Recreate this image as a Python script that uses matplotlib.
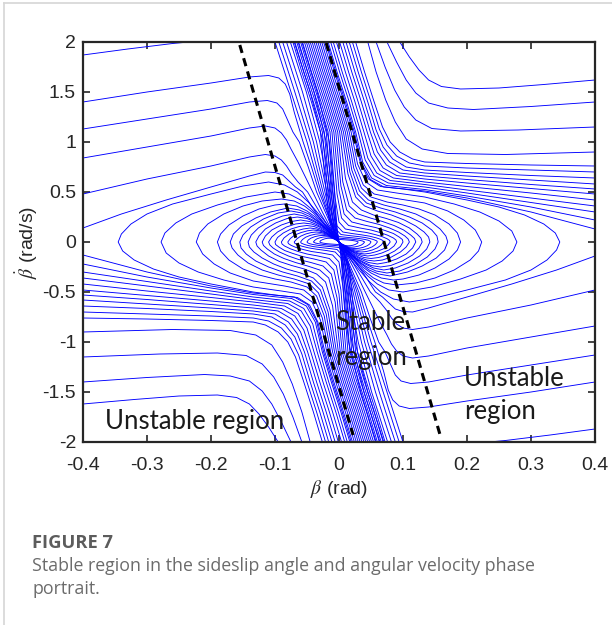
import matplotlib
matplotlib.use("Agg")
import matplotlib.pyplot as plt
from matplotlib.lines import Line2D

plt.rcParams["axes.unicode_minus"] = False
plt.rcParams["mathtext.fontset"] = "stix"

# Phase portrait: (beta [rad], beta_dot [rad/s]) knots.
# The portrait is point-symmetric about the origin, so each listed trajectory
# is drawn once as read and once reflected through the origin.

# entering from the left edge with beta_dot > 0
left_entry = [
    [(-0.40, 1.87), (-0.33, 1.93), (-0.26, 1.985), (-0.235, 2.0)],
    [(-0.40, 1.40), (-0.30, 1.50), (-0.20, 1.59), (-0.14, 1.65), (-0.11, 1.665), (-0.094, 1.64),
     (-0.084, 1.58), (-0.077, 1.48), (-0.07, 1.3), (-0.056, 1.0), (-0.043, 0.75), (-0.031, 0.5),
     (-0.016, 0.25), (-0.006, 0.08), (0.0, 0.0)],
    [(-0.40, 1.13), (-0.30, 1.23), (-0.20, 1.33), (-0.14, 1.40), (-0.112, 1.415), (-0.097, 1.39),
     (-0.088, 1.33), (-0.081, 1.23), (-0.072, 1.1), (-0.062, 1.0), (-0.048, 0.75), (-0.035, 0.5),
     (-0.018, 0.25), (-0.007, 0.08), (0.0, 0.0)],
    [(-0.40, 0.84), (-0.30, 0.95), (-0.20, 1.06), (-0.14, 1.14), (-0.115, 1.16), (-0.10, 1.14),
     (-0.09, 1.09), (-0.082, 1.02), (-0.075, 0.93), (-0.064, 0.8), (-0.041, 0.5), (-0.026, 0.3),
     (-0.013, 0.14), (-0.005, 0.04), (0.0, 0.0)],
    [(-0.40, 0.48), (-0.30, 0.63), (-0.20, 0.76), (-0.14, 0.85), (-0.115, 0.875), (-0.10, 0.86),
     (-0.09, 0.82), (-0.082, 0.76), (-0.074, 0.68), (-0.064, 0.6), (-0.049, 0.5), (-0.036, 0.36),
     (-0.021, 0.2), (-0.008, 0.07), (0.0, 0.0)],
    [(-0.40, 0.14), (-0.34, 0.28), (-0.27, 0.42), (-0.20, 0.55), (-0.14, 0.66), (-0.115, 0.70),
     (-0.10, 0.695), (-0.088, 0.67), (-0.078, 0.61), (-0.068, 0.55), (-0.057, 0.5), (-0.043, 0.36),
     (-0.026, 0.2), (-0.01, 0.07), (0.0, 0.0)],
]

# entering from the top edge left of the dense band, straight into the origin
top_direct = [
    [(-0.100, 2.0), (-0.075, 1.5), (-0.050, 1.0), (-0.028, 0.5), (-0.013, 0.2), (-0.006, 0.08), (0.0, 0.0)],
    [(-0.094, 2.0), (-0.069, 1.5), (-0.045, 1.0), (-0.025, 0.5), (-0.012, 0.2), (-0.005, 0.08), (0.0, 0.0)],
    [(-0.088, 2.0), (-0.063, 1.5), (-0.040, 1.0), (-0.022, 0.5), (-0.011, 0.2), (-0.005, 0.08), (0.0, 0.0)],
    [(-0.082, 2.0), (-0.057, 1.5), (-0.035, 1.0), (-0.019, 0.5), (-0.009, 0.2), (-0.004, 0.08), (0.0, 0.0)],
    [(-0.076, 2.0), (-0.051, 1.5), (-0.030, 1.0), (-0.016, 0.5), (-0.008, 0.2), (-0.004, 0.08), (0.0, 0.0)],
    [(-0.070, 2.0), (-0.045, 1.5), (-0.025, 1.0), (-0.013, 0.5), (-0.006, 0.2), (-0.003, 0.08), (0.0, 0.0)],
    [(-0.064, 2.0), (-0.039, 1.5), (-0.020, 1.0), (-0.010, 0.5), (-0.005, 0.2), (-0.002, 0.08), (0.0, 0.0)],
    [(-0.058, 2.0), (-0.034, 1.5), (-0.015, 1.0), (-0.007, 0.5), (-0.004, 0.2), (-0.002, 0.08), (0.0, 0.0)],
]

# entering from the top edge right of the band, out through the right edge
top_right = [
    [(0.095, 2.0), (0.11, 1.85), (0.125, 1.72), (0.14, 1.62), (0.16, 1.555), (0.19, 1.53),
     (0.25, 1.54), (0.32, 1.575), (0.40, 1.62)],
    [(0.075, 2.0), (0.09, 1.8), (0.105, 1.62), (0.12, 1.49), (0.14, 1.39), (0.17, 1.34),
     (0.21, 1.325), (0.30, 1.355), (0.40, 1.40)],
    [(0.058, 2.0), (0.072, 1.75), (0.087, 1.52), (0.102, 1.35), (0.12, 1.22), (0.145, 1.135),
     (0.19, 1.11), (0.28, 1.12), (0.40, 1.15)],
    [(0.045, 2.0), (0.058, 1.7), (0.073, 1.42), (0.088, 1.2), (0.105, 1.03), (0.13, 0.93),
     (0.17, 0.885), (0.26, 0.875), (0.40, 0.90)],
]

# dense band from the top edge, spreading out through the right edge
band_edge = [
    [(0.026, 2.0), (0.040, 1.7), (0.055, 1.4), (0.068, 1.15), (0.08, 1.0), (0.095, 0.9),
     (0.115, 0.83), (0.134, 0.80), (0.2, 0.785), (0.3, 0.77), (0.4, 0.76)],
    [(0.021, 2.0), (0.035, 1.7), (0.050, 1.4), (0.063, 1.13), (0.075, 0.97), (0.09, 0.86),
     (0.11, 0.79), (0.134, 0.76), (0.2, 0.74), (0.3, 0.72), (0.4, 0.70)],
    [(0.016, 2.0), (0.030, 1.7), (0.045, 1.4), (0.058, 1.12), (0.069, 0.95), (0.084, 0.83),
     (0.105, 0.75), (0.134, 0.72), (0.2, 0.695), (0.3, 0.665), (0.4, 0.64)],
    [(0.011, 2.0), (0.025, 1.7), (0.040, 1.4), (0.054, 1.1), (0.065, 0.92), (0.079, 0.8),
     (0.1, 0.72), (0.134, 0.69), (0.2, 0.66), (0.3, 0.62), (0.4, 0.58)],
    [(0.006, 2.0), (0.020, 1.7), (0.035, 1.4), (0.049, 1.1), (0.06, 0.9), (0.074, 0.77),
     (0.095, 0.69), (0.134, 0.66), (0.2, 0.625), (0.3, 0.575), (0.4, 0.53)],
    [(0.001, 2.0), (0.015, 1.7), (0.030, 1.4), (0.044, 1.1), (0.055, 0.88), (0.069, 0.74),
     (0.09, 0.665), (0.134, 0.63), (0.2, 0.59), (0.3, 0.535), (0.4, 0.48)],
    [(-0.004, 2.0), (0.010, 1.7), (0.025, 1.4), (0.039, 1.1), (0.05, 0.86), (0.064, 0.715),
     (0.085, 0.64), (0.134, 0.60), (0.2, 0.555), (0.3, 0.49), (0.4, 0.42)],
    [(-0.009, 2.0), (0.005, 1.7), (0.020, 1.4), (0.034, 1.1), (0.045, 0.84), (0.059, 0.69),
     (0.08, 0.615), (0.134, 0.575), (0.2, 0.52), (0.3, 0.44), (0.4, 0.36)],
    [(-0.013, 2.0), (0.001, 1.7), (0.016, 1.4), (0.030, 1.1), (0.041, 0.82), (0.055, 0.665),
     (0.077, 0.59), (0.134, 0.55), (0.2, 0.49), (0.3, 0.395), (0.4, 0.30)],
    [(-0.017, 2.0), (-0.003, 1.7), (0.012, 1.4), (0.026, 1.1), (0.037, 0.8), (0.051, 0.64),
     (0.074, 0.565), (0.134, 0.525), (0.2, 0.46), (0.3, 0.35), (0.4, 0.22)],
    [(-0.019, 2.0), (-0.005, 1.7), (0.010, 1.4), (0.024, 1.1), (0.035, 0.79), (0.049, 0.625),
     (0.07, 0.55), (0.134, 0.51), (0.2, 0.44), (0.3, 0.30), (0.4, 0.13)],
]

# dense band from the top edge, looping round on the right and back into the origin
band_loops = [
    [(-0.021, 2.0), (-0.007, 1.7), (0.008, 1.4), (0.022, 1.1), (0.033, 0.8), (0.046, 0.63),
     (0.065, 0.555), (0.1, 0.53), (0.134, 0.5), (0.2, 0.42), (0.25, 0.35), (0.29, 0.27),
     (0.32, 0.18), (0.338, 0.09), (0.345, 0.0), (0.34, -0.08), (0.325, -0.18), (0.3, -0.28),
     (0.26, -0.38), (0.2, -0.48), (0.15, -0.56), (0.11, -0.6), (0.085, -0.57), (0.065, -0.5),
     (0.048, -0.4), (0.033, -0.29), (0.02, -0.19), (0.01, -0.1), (0.004, -0.04), (0.0, 0.0)],
    [(-0.024, 2.0), (-0.010, 1.7), (0.005, 1.4), (0.019, 1.1), (0.029, 0.78), (0.042, 0.6),
     (0.06, 0.52), (0.09, 0.49), (0.134, 0.45), (0.18, 0.38), (0.22, 0.3), (0.25, 0.21),
     (0.27, 0.11), (0.278, 0.0), (0.272, -0.09), (0.255, -0.19), (0.23, -0.28), (0.19, -0.37),
     (0.145, -0.45), (0.1, -0.5), (0.078, -0.48), (0.06, -0.42), (0.045, -0.34), (0.031, -0.25),
     (0.019, -0.16), (0.009, -0.08), (0.004, -0.035), (0.0, 0.0)],
    [(-0.027, 2.0), (-0.013, 1.7), (0.002, 1.4), (0.016, 1.1), (0.026, 0.76), (0.038, 0.57),
     (0.055, 0.48), (0.085, 0.44), (0.134, 0.39), (0.17, 0.31), (0.195, 0.22), (0.213, 0.12),
     (0.223, 0.0), (0.218, -0.09), (0.205, -0.18), (0.18, -0.28), (0.15, -0.36), (0.12, -0.41),
     (0.09, -0.43), (0.07, -0.41), (0.054, -0.36), (0.04, -0.29), (0.028, -0.21), (0.017, -0.14),
     (0.008, -0.07), (0.003, -0.03), (0.0, 0.0)],
    [(-0.030, 2.0), (-0.016, 1.7), (-0.001, 1.4), (0.013, 1.1), (0.023, 0.74), (0.035, 0.54),
     (0.05, 0.45), (0.075, 0.4), (0.1, 0.37), (0.125, 0.33), (0.15, 0.27), (0.172, 0.18),
     (0.185, 0.09), (0.19, 0.0), (0.185, -0.08), (0.172, -0.17), (0.15, -0.26), (0.125, -0.33),
     (0.1, -0.37), (0.085, -0.38), (0.066, -0.36), (0.05, -0.31), (0.037, -0.25), (0.026, -0.18),
     (0.016, -0.12), (0.008, -0.06), (0.003, -0.025), (0.0, 0.0)],
    [(-0.033, 2.0), (-0.019, 1.7), (-0.004, 1.4), (0.010, 1.1), (0.020, 0.72), (0.032, 0.51),
     (0.046, 0.42), (0.07, 0.37), (0.095, 0.33), (0.12, 0.28), (0.142, 0.21), (0.158, 0.13),
     (0.167, 0.06), (0.17, 0.0), (0.165, -0.08), (0.152, -0.16), (0.13, -0.24), (0.107, -0.3),
     (0.08, -0.34), (0.062, -0.32), (0.047, -0.28), (0.035, -0.22), (0.024, -0.16), (0.015, -0.1),
     (0.007, -0.05), (0.003, -0.02), (0.0, 0.0)],
    [(-0.036, 2.0), (-0.022, 1.7), (-0.007, 1.4), (0.007, 1.1), (0.017, 0.7), (0.029, 0.48),
     (0.043, 0.39), (0.065, 0.34), (0.088, 0.3), (0.11, 0.25), (0.13, 0.19), (0.145, 0.12),
     (0.153, 0.06), (0.155, 0.0), (0.15, -0.07), (0.138, -0.15), (0.118, -0.23), (0.095, -0.29),
     (0.075, -0.31), (0.058, -0.29), (0.044, -0.25), (0.032, -0.2), (0.022, -0.14), (0.013, -0.09),
     (0.006, -0.045), (0.002, -0.018), (0.0, 0.0)],
    [(-0.039, 2.0), (-0.025, 1.7), (-0.010, 1.4), (0.004, 1.1), (0.014, 0.68), (0.026, 0.45),
     (0.04, 0.36), (0.06, 0.31), (0.082, 0.27), (0.102, 0.22), (0.12, 0.16), (0.133, 0.1),
     (0.14, 0.05), (0.142, 0.0), (0.137, -0.07), (0.126, -0.14), (0.108, -0.21), (0.088, -0.26),
     (0.07, -0.28), (0.054, -0.26), (0.041, -0.22), (0.03, -0.18), (0.02, -0.13), (0.012, -0.08),
     (0.005, -0.04), (0.002, -0.016), (0.0, 0.0)],
    [(-0.042, 2.0), (-0.028, 1.7), (-0.013, 1.4), (0.001, 1.1), (0.010, 0.64), (0.021, 0.4),
     (0.035, 0.32), (0.054, 0.27), (0.074, 0.235), (0.093, 0.195), (0.11, 0.14), (0.122, 0.08),
     (0.128, 0.04), (0.13, 0.0), (0.125, -0.06), (0.115, -0.13), (0.099, -0.19), (0.081, -0.235),
     (0.065, -0.25), (0.05, -0.235), (0.038, -0.2), (0.027, -0.16), (0.018, -0.115), (0.011, -0.075),
     (0.005, -0.035), (0.002, -0.014), (0.0, 0.0)],
    [(-0.045, 2.0), (-0.031, 1.7), (-0.016, 1.4), (-0.002, 1.1), (0.006, 0.6), (0.016, 0.36),
     (0.03, 0.28), (0.049, 0.24), (0.068, 0.205), (0.086, 0.165), (0.101, 0.12), (0.112, 0.07),
     (0.118, 0.035), (0.12, 0.0), (0.115, -0.06), (0.105, -0.12), (0.09, -0.17), (0.074, -0.205),
     (0.06, -0.22), (0.046, -0.205), (0.035, -0.175), (0.025, -0.14), (0.017, -0.1), (0.01, -0.065),
     (0.004, -0.03), (0.0, 0.0)],
    [(-0.048, 2.0), (-0.034, 1.7), (-0.019, 1.4), (-0.005, 1.1), (0.003, 0.56), (0.012, 0.32),
     (0.025, 0.24), (0.044, 0.205), (0.063, 0.175), (0.079, 0.14), (0.093, 0.1), (0.103, 0.06),
     (0.108, 0.03), (0.11, 0.0), (0.105, -0.05), (0.096, -0.1), (0.082, -0.15), (0.068, -0.18),
     (0.055, -0.19), (0.043, -0.18), (0.032, -0.155), (0.023, -0.12), (0.015, -0.085), (0.008, -0.05),
     (0.003, -0.02), (0.0, 0.0)],
    [(-0.051, 2.0), (-0.037, 1.7), (-0.022, 1.4), (-0.008, 1.1), (0.0, 0.52), (0.008, 0.28),
     (0.02, 0.2), (0.039, 0.17), (0.057, 0.145), (0.072, 0.115), (0.085, 0.085), (0.094, 0.05),
     (0.099, 0.025), (0.1, 0.0), (0.096, -0.045), (0.087, -0.09), (0.075, -0.13), (0.062, -0.155),
     (0.05, -0.165), (0.039, -0.155), (0.029, -0.13), (0.021, -0.1), (0.013, -0.07), (0.007, -0.04),
     (0.003, -0.016), (0.0, 0.0)],
    [(-0.054, 2.0), (-0.040, 1.7), (-0.025, 1.4), (-0.011, 1.1), (-0.003, 0.48), (0.004, 0.24),
     (0.015, 0.165), (0.033, 0.14), (0.05, 0.12), (0.064, 0.095), (0.076, 0.068), (0.085, 0.04),
     (0.089, 0.02), (0.09, 0.0), (0.086, -0.04), (0.078, -0.08), (0.067, -0.11), (0.056, -0.13),
     (0.045, -0.14), (0.035, -0.13), (0.026, -0.11), (0.018, -0.085), (0.011, -0.058), (0.006, -0.033),
     (0.002, -0.013), (0.0, 0.0)],
    [(-0.057, 2.0), (-0.043, 1.7), (-0.028, 1.4), (-0.014, 1.1), (-0.006, 0.44), (0.0, 0.2),
     (0.01, 0.13), (0.027, 0.11), (0.043, 0.095), (0.056, 0.075), (0.067, 0.055), (0.075, 0.033),
     (0.079, 0.016), (0.08, 0.0), (0.076, -0.035), (0.069, -0.07), (0.059, -0.095), (0.049, -0.112),
     (0.04, -0.12), (0.031, -0.112), (0.023, -0.095), (0.016, -0.072), (0.01, -0.048), (0.005, -0.027),
     (0.002, -0.01), (0.0, 0.0)],
    [(-0.060, 2.0), (-0.046, 1.7), (-0.031, 1.4), (-0.017, 1.1), (-0.008, 0.4), (-0.003, 0.16),
     (0.006, 0.1), (0.02, 0.085), (0.035, 0.072), (0.048, 0.058), (0.058, 0.042), (0.065, 0.027),
     (0.069, 0.013), (0.07, 0.0), (0.066, -0.03), (0.06, -0.058), (0.052, -0.08), (0.043, -0.095),
     (0.035, -0.1), (0.027, -0.094), (0.02, -0.08), (0.014, -0.062), (0.009, -0.042), (0.004, -0.022),
     (0.0, 0.0)],
    [(-0.063, 2.0), (-0.049, 1.7), (-0.034, 1.4), (-0.020, 1.1), (-0.010, 0.36), (-0.005, 0.13),
     (0.003, 0.075), (0.015, 0.065), (0.028, 0.056), (0.04, 0.046), (0.049, 0.034), (0.055, 0.022),
     (0.059, 0.011), (0.06, 0.0), (0.057, -0.025), (0.052, -0.048), (0.045, -0.066), (0.037, -0.078),
     (0.03, -0.082), (0.023, -0.077), (0.017, -0.066), (0.012, -0.052), (0.007, -0.035), (0.003, -0.018),
     (0.0, 0.0)],
    [(-0.066, 2.0), (-0.052, 1.7), (-0.037, 1.4), (-0.023, 1.1), (-0.012, 0.32), (-0.007, 0.1),
     (0.0, 0.055), (0.01, 0.048), (0.021, 0.042), (0.031, 0.035), (0.04, 0.026), (0.046, 0.017),
     (0.049, 0.008), (0.05, 0.0), (0.048, -0.02), (0.044, -0.038), (0.038, -0.053), (0.031, -0.063),
     (0.025, -0.066), (0.019, -0.062), (0.014, -0.053), (0.01, -0.042), (0.006, -0.028), (0.003, -0.014),
     (0.0, 0.0)],
    [(-0.069, 2.0), (-0.055, 1.7), (-0.040, 1.4), (-0.026, 1.1), (-0.014, 0.28), (-0.008, 0.08),
     (-0.002, 0.04), (0.008, 0.034), (0.017, 0.03), (0.025, 0.024), (0.032, 0.017), (0.037, 0.01),
     (0.04, 0.0), (0.038, -0.016), (0.035, -0.03), (0.03, -0.042), (0.024, -0.05), (0.019, -0.052),
     (0.014, -0.048), (0.01, -0.04), (0.006, -0.028), (0.003, -0.014), (0.0, 0.0)],
    [(-0.072, 2.0), (-0.058, 1.7), (-0.043, 1.4), (-0.029, 1.1), (-0.016, 0.25), (-0.009, 0.06),
     (-0.003, 0.027), (0.006, 0.023), (0.013, 0.02), (0.02, 0.016), (0.025, 0.011), (0.028, 0.006),
     (0.03, 0.0), (0.029, -0.012), (0.026, -0.023), (0.022, -0.032), (0.018, -0.037), (0.014, -0.038),
     (0.01, -0.035), (0.007, -0.028), (0.004, -0.019), (0.002, -0.01), (0.0, 0.0)],
]

# stability boundaries (dashed), end points as read
bound_left_beta = [-0.155, 0.022]
bound_left_rate = [1.97, -1.93]
bound_right_beta = [-0.020, 0.158]
bound_right_rate = [1.99, -1.93]

x_ticks = [-0.4, -0.3, -0.2, -0.1, 0, 0.1, 0.2, 0.3, 0.4]
x_labels = ["-0.4", "-0.3", "-0.2", "-0.1", "0", "0.1", "0.2", "0.3", "0.4"]
y_ticks = [-2, -1.5, -1, -0.5, 0, 0.5, 1, 1.5, 2]
y_labels = ["-2", "-1.5", "-1", "-0.5", "0", "0.5", "1", "1.5", "2"]

fig = plt.figure(figsize=(6.12, 6.25), dpi=100)
ax = fig.add_axes([0.1356, 0.2928, 0.8366, 0.64])

for group in (left_entry, top_direct, top_right, band_edge, band_loops):
    for curve in group:
        b = [p[0] for p in curve]
        r = [p[1] for p in curve]
        ax.plot(b, r, color="#0000ff", lw=0.65)
        ax.plot([-x for x in b], [-y for y in r], color="#0000ff", lw=0.65)

for bb, rr in ((bound_left_beta, bound_left_rate), (bound_right_beta, bound_right_rate)):
    ax.plot(bb, rr, color="black", lw=2.2, ls=(0, (2.7, 1.8)))

ax.set_xlim(-0.4, 0.4)
ax.set_ylim(-2, 2)
ax.set_xticks(x_ticks)
ax.set_xticklabels(x_labels)
ax.set_yticks(y_ticks)
ax.set_yticklabels(y_labels)
for lab in ax.get_xticklabels() + ax.get_yticklabels():
    lab.set_family("Liberation Sans")
ax.tick_params(direction="in", length=5, width=1.2, top=True, right=True,
               labelsize=14, colors="#262626")
ax.tick_params(axis="x", pad=11)
ax.tick_params(axis="y", pad=5)
for sp in ax.spines.values():
    sp.set_linewidth(1.6)
    sp.set_color("#262626")

ax.set_xlabel(r"$\beta$ (rad)", fontsize=14, family="Liberation Sans", color="#262626", va="center")
ax.xaxis.set_label_coords(0.5, -0.118)
ax.set_ylabel(r"$\dot{\beta}$ (rad/s)", fontsize=14, family="Liberation Sans", color="#262626", va="center")
ax.yaxis.set_label_coords(-0.11, 0.5)

txt = dict(fontsize=18.5, family="Lato", color="#1a1a1a", va="center", ha="left")
ax.text(-0.366, -1.80, "Unstable region", **txt)
ax.text(-0.006, -0.81, "Stable", **txt)
ax.text(-0.006, -1.15, "region", **txt)
ax.text(0.195, -1.36, "Unstable", **txt)
ax.text(0.195, -1.70, "region", **txt)

fig.text(32 / 612, 1 - 543 / 625, "FIGURE 7", fontsize=13.2, family="Open Sans", weight="bold",
         color="#5c5c5c", va="center", ha="left")
fig.text(32 / 612, 1 - 566 / 625, "Stable region in the sideslip angle and angular velocity phase",
         fontsize=12.8, family="Open Sans", color="#6b6b6b", va="center", ha="left")
fig.text(32 / 612, 1 - 589 / 625, "portrait.", fontsize=12.8, family="Open Sans", color="#6b6b6b",
         va="center", ha="left")

# light page frame on the left and top
fig.add_artist(Line2D([4 / 612, 4 / 612], [0, 1 - 3 / 625], transform=fig.transFigure, color="#d6d6d6", lw=1.2))
fig.add_artist(Line2D([4 / 612, 1], [1 - 3 / 625, 1 - 3 / 625], transform=fig.transFigure, color="#d6d6d6", lw=1.2))

fig.savefig("out.png", dpi=100)
